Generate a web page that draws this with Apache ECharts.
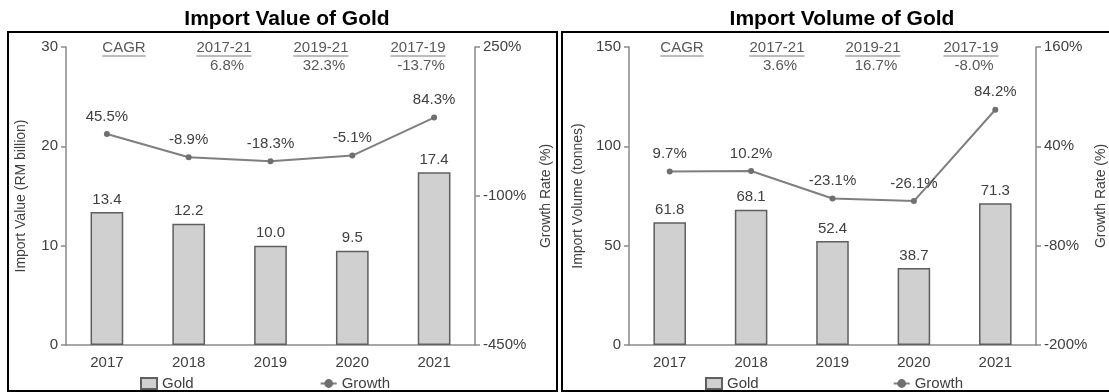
<!DOCTYPE html>
<html>
<head>
<meta charset="utf-8">
<script src="https://cdn.jsdelivr.net/npm/echarts@6/dist/echarts.min.js"></script>
<style>
  html, body { margin: 0; padding: 0; background: #fff; }
  #chart { width: 1109px; height: 392px; }
</style>
</head>
<body>
<div id="chart"></div>
<script>
const years = ['2017', '2018', '2019', '2020', '2021'];
const importValue = [13.4, 12.2, 10.0, 9.5, 17.4];
const valueGrowth = [45.5, -8.9, -18.3, -5.1, 84.3];
const importVolume = [61.8, 68.1, 52.4, 38.7, 71.3];
const volumeGrowth = [9.7, 10.2, -23.1, -26.1, 84.2];
const cagrHeaders = ['CAGR', '2017-21', '2019-21', '2017-19'];
const valueCagr = ['', '6.8%', '32.3%', '-13.7%'];
const volumeCagr = ['', '3.6%', '16.7%', '-8.0%'];
const valueGrowthTicks = [-450, -100, 250];
const volumeGrowthTicks = [-200, -80, 40, 160];

const FONT = '"Liberation Sans", Arial, sans-serif';
const TXT = '#404040';
const AXIS = '#8a8a8a';

var myChart = echarts.init(document.getElementById('chart'), null, { renderer: 'canvas' });

// measure text for the underlines
var ctx = document.createElement('canvas').getContext('2d');
ctx.font = '15px ' + FONT;

function cagrGraphic(xs, values) {
    var els = [];
    cagrHeaders.forEach(function (h, i) {
        var w = ctx.measureText(h).width;
        els.push({
            type: 'text', x: xs[i], y: 48,
            style: { text: h, font: '15px ' + FONT, fill: '#595959', align: 'center', verticalAlign: 'middle' }
        });
        els.push({
            type: 'line',
            shape: { x1: xs[i] - w / 2, y1: 56, x2: xs[i] + w / 2, y2: 56 },
            style: { stroke: '#7a7a7a', lineWidth: 1 }
        });
        if (values[i]) {
            els.push({
                type: 'text', x: xs[i] + 3, y: 66,
                style: { text: values[i], font: '15px ' + FONT, fill: '#595959', align: 'center', verticalAlign: 'middle' }
            });
        }
    });
    return els;
}

function yLeft(gridIndex, max, interval, name, gap) {
    return {
        type: 'value', gridIndex: gridIndex, min: 0, max: max, interval: interval,
        name: name, nameLocation: 'middle', nameGap: gap,
        nameTextStyle: { fontSize: 14, color: TXT, fontFamily: FONT },
        axisLine: { show: true, lineStyle: { color: AXIS, width: 1.5 } },
        axisTick: { show: true, length: 5, lineStyle: { color: AXIS, width: 1.5 } },
        axisLabel: { fontSize: 15, color: TXT, fontFamily: FONT, margin: 8 },
        splitLine: { show: false }
    };
}

function yRight(gridIndex, ticks, gap) {
    return {
        type: 'value', gridIndex: gridIndex, position: 'right',
        min: ticks[0], max: ticks[ticks.length - 1],
        name: 'Growth Rate (%)', nameLocation: 'middle', nameGap: gap,
        nameTextStyle: { fontSize: 14, color: TXT, fontFamily: FONT },
        axisLine: { show: true, lineStyle: { color: AXIS, width: 1.5 } },
        axisTick: { show: true, length: 5, customValues: ticks, lineStyle: { color: AXIS, width: 1.5 } },
        axisLabel: { fontSize: 15, color: TXT, fontFamily: FONT, margin: 8, customValues: ticks, formatter: '{value}%' },
        splitLine: { show: false }
    };
}

function xCat(gridIndex) {
    return {
        type: 'category', gridIndex: gridIndex, data: years,
        axisLine: { lineStyle: { color: AXIS, width: 1.5 } },
        axisTick: { length: 4, lineStyle: { color: AXIS, width: 1.5 } },
        axisLabel: { fontSize: 15, color: TXT, fontFamily: FONT, margin: 10 }
    };
}

function barSeries(idx, data) {
    return {
        name: 'Gold', type: 'bar', xAxisIndex: idx, yAxisIndex: idx * 2,
        barWidth: '40%',
        itemStyle: { color: '#d0d0d0', borderColor: '#5f5f5f', borderWidth: 1.5 },
        label: {
            show: true, position: 'top', distance: 5, fontSize: 15, color: TXT, fontFamily: FONT,
            formatter: function (p) { return Number(p.value).toFixed(1); }
        },
        data: data
    };
}

function lineSeries(idx, data) {
    return {
        name: 'Growth', type: 'line', xAxisIndex: idx, yAxisIndex: idx * 2 + 1,
        symbol: 'circle', symbolSize: 6,
        lineStyle: { color: '#7f7f7f', width: 2 },
        itemStyle: { color: '#6f6f6f' },
        label: {
            show: true, position: 'top', distance: 7, fontSize: 15, color: TXT, fontFamily: FONT,
            formatter: function (p) { return Number(p.value).toFixed(1) + '%'; }
        },
        data: data
    };
}

function legend(left, gap) {
    return {
        left: left, top: 371, itemGap: gap, itemWidth: 16, itemHeight: 11,
        textStyle: { fontSize: 15, color: TXT, fontFamily: FONT },
        data: [
            { name: 'Gold', icon: 'rect' },
            { name: 'Growth' }
        ]
    };
}

var option = {
    animation: false,
    textStyle: { fontFamily: FONT },
    title: [
        { text: 'Import Value of Gold', left: 282, top: 4, textAlign: 'center',
          textStyle: { fontSize: 21, fontWeight: 'bold', color: '#000', fontFamily: FONT } },
        { text: 'Import Volume of Gold', left: 837, top: 4, textAlign: 'center',
          textStyle: { fontSize: 21, fontWeight: 'bold', color: '#000', fontFamily: FONT } }
    ],
    legend: [legend(135, 126), legend(700, 134)],
    grid: [
        { left: 66, right: 634, top: 47, bottom: 47 },
        { left: 629, right: 72, top: 47, bottom: 47 }
    ],
    xAxis: [xCat(0), xCat(1)],
    yAxis: [
        yLeft(0, 30, 10, 'Import Value (RM billion)', 38),
        yRight(0, valueGrowthTicks, 64),
        yLeft(1, 150, 50, 'Import Volume (tonnes)', 44),
        yRight(1, volumeGrowthTicks, 58)
    ],
    series: [
        barSeries(0, importValue),
        lineSeries(0, valueGrowth),
        barSeries(1, importVolume),
        lineSeries(1, volumeGrowth)
    ],
    graphic: [
        { type: 'rect', shape: { x: 8, y: 32, width: 549, height: 359 },
          style: { fill: 'none', stroke: '#000', lineWidth: 2 } },
        { type: 'rect', shape: { x: 562, y: 32, width: 560, height: 359 },
          style: { fill: 'none', stroke: '#000', lineWidth: 2 } }
    ].concat(cagrGraphic([124, 224, 321, 418], valueCagr))
     .concat(cagrGraphic([682, 777, 873, 971], volumeCagr))
};

myChart.setOption(option);
</script>
</body>
</html>
